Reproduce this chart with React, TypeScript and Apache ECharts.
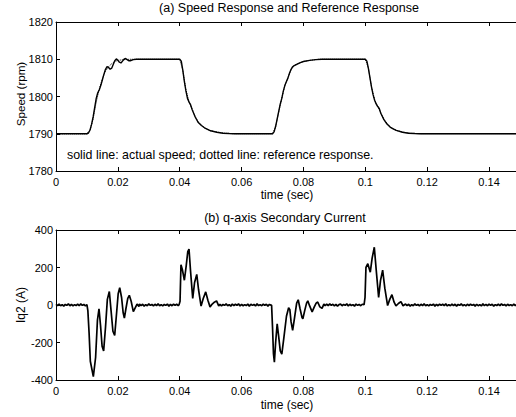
import React, { useEffect, useRef } from "react";
import * as echarts from "echarts";

const FONT = "Liberation Sans, Arial, Helvetica, sans-serif";

// x axis ticks (sec)
const timeMin = 0;
const timeMax = 0.15;
const timeStep = 0.02;

// (a) speed, actual (solid)
const speedT = [
  0, 0.01, 0.0105, 0.011, 0.0115, 0.012, 0.0125, 0.013, 0.0135, 0.014, 0.0145, 0.015, 0.0155, 0.016, 0.0165,
  0.017, 0.0175, 0.018, 0.0185, 0.019, 0.0195, 0.02, 0.0205, 0.021, 0.0215, 0.022, 0.0225, 0.023, 0.0235,
  0.024, 0.025, 0.026, 0.04, 0.0405, 0.041, 0.0415, 0.042, 0.0425, 0.043, 0.0435, 0.044, 0.045, 0.046, 0.047,
  0.048, 0.049, 0.05, 0.052, 0.054, 0.056, 0.058, 0.07, 0.0705, 0.071, 0.0715, 0.072, 0.0725, 0.073, 0.0735,
  0.074, 0.0745, 0.075, 0.0755, 0.076, 0.0765, 0.077, 0.078, 0.079, 0.08, 0.082, 0.084, 0.086, 0.1, 0.1005,
  0.101, 0.1015, 0.102, 0.1025, 0.103, 0.1035, 0.104, 0.1045, 0.105, 0.106, 0.107, 0.108, 0.109, 0.11, 0.112,
  0.114, 0.116, 0.118, 0.15,
];
const speedActual = [
  1790, 1790, 1790.2, 1791, 1792.5, 1794.5, 1797, 1799.5, 1801, 1801.8, 1803, 1804.5, 1806, 1807.3, 1808,
  1807.8, 1807.3, 1807.6, 1808.6, 1809.6, 1810.1, 1809.7, 1809.2, 1809.0, 1809.5, 1810, 1810.2, 1809.9, 1809.6,
  1809.6, 1809.9, 1810, 1810, 1809.5, 1807, 1804, 1801.5, 1799.5, 1798.5, 1797.8, 1796.5, 1794.5, 1793, 1792.2,
  1791.6, 1791.2, 1790.8, 1790.4, 1790.15, 1790.05, 1790, 1790, 1790.5, 1792, 1794, 1796, 1798, 1799.5, 1801.5,
  1803, 1804, 1805, 1806.3, 1807.3, 1808, 1808.3, 1808.7, 1809.1, 1809.4, 1809.7, 1809.9, 1810, 1810, 1809.5,
  1807.5, 1805, 1802.5, 1800.5, 1799, 1798, 1797.3, 1796.8, 1795.5, 1793.8, 1792.6, 1791.8, 1791.3, 1790.9, 1790.4,
  1790.15, 1790.05, 1790, 1790,
];

// (a) speed, reference response (dotted)
const refT = [
  0, 0.01, 0.011, 0.012, 0.013, 0.014, 0.015, 0.016, 0.017, 0.018, 0.019, 0.02, 0.022, 0.024, 0.04, 0.041,
  0.042, 0.043, 0.044, 0.045, 0.046, 0.048, 0.05, 0.053, 0.057, 0.07, 0.071, 0.072, 0.073, 0.074, 0.075, 0.076,
  0.077, 0.078, 0.08, 0.082, 0.085, 0.1, 0.101, 0.102, 0.103, 0.104, 0.105, 0.106, 0.108, 0.11, 0.113, 0.117, 0.15,
];
const speedRef = [
  1790, 1790, 1791, 1794, 1798.5, 1802, 1804.8, 1806.8, 1808, 1808.8, 1809.4, 1809.7, 1809.9, 1810, 1810, 1807,
  1801.8, 1798.6, 1796.6, 1794.6, 1793.1, 1791.6, 1790.8, 1790.3, 1790, 1790, 1791.8, 1795.8, 1799.6, 1803,
  1805.1, 1807.2, 1808.3, 1808.8, 1809.4, 1809.7, 1810, 1810, 1807.6, 1802.6, 1799.1, 1797.3, 1795.6, 1793.9,
  1791.8, 1790.9, 1790.3, 1790, 1790,
];

// (b) q-axis secondary current (A)
const currentT = [
  0, 0.0005, 0.001, 0.0015, 0.002, 0.0025, 0.003, 0.0035, 0.004, 0.0045, 0.005, 0.0055, 0.006, 0.0065, 0.007,
  0.0075, 0.008, 0.0085, 0.009, 0.0095, 0.01,
  0.0103, 0.0107, 0.0111, 0.01207, 0.0128, 0.0134, 0.0139, 0.0144, 0.0149, 0.0154, 0.016, 0.0166, 0.01724, 0.0178,
  0.0184, 0.01897, 0.0195, 0.0201, 0.0206, 0.0212, 0.0217, 0.0221, 0.0226, 0.0232, 0.0237, 0.0243, 0.025, 0.0256,
  0.0262, 0.0268,
  0.027, 0.0275, 0.028, 0.0285, 0.029, 0.0295, 0.03, 0.0305, 0.031, 0.0315, 0.032, 0.0325, 0.033, 0.0335, 0.034,
  0.0345, 0.035, 0.0355, 0.036, 0.0365, 0.037, 0.0375, 0.038, 0.0385, 0.039, 0.0395, 0.0398,
  0.0401, 0.0404, 0.0409, 0.0415, 0.0421, 0.0426, 0.043, 0.0435, 0.0442, 0.0448, 0.0455, 0.0461, 0.0469, 0.0476,
  0.0484, 0.0491, 0.0498, 0.0505, 0.0512, 0.0519, 0.0526,
  0.053, 0.0535, 0.054, 0.0545, 0.055, 0.0555, 0.056, 0.0565, 0.057, 0.0575, 0.058, 0.0585, 0.059, 0.0595, 0.06,
  0.0605, 0.061, 0.0615, 0.062, 0.0625, 0.063, 0.0635, 0.064, 0.0645, 0.065, 0.0655, 0.066, 0.0665, 0.067,
  0.0675, 0.068, 0.0685, 0.069, 0.0697,
  0.07, 0.0703, 0.0706, 0.071, 0.0715, 0.072, 0.0725, 0.073, 0.0737, 0.0745, 0.0752, 0.0756, 0.076, 0.0765, 0.0771,
  0.0778, 0.0783, 0.0789, 0.0795, 0.0798, 0.0804, 0.081, 0.0814, 0.082, 0.0828, 0.0835, 0.0841, 0.0846, 0.0853,
  0.086, 0.0866,
  0.087, 0.0875, 0.088, 0.0885, 0.089, 0.0895, 0.09, 0.0905, 0.091, 0.0915, 0.092, 0.0925, 0.093, 0.0935, 0.094,
  0.0945, 0.095, 0.0955, 0.096, 0.0965, 0.097, 0.0975, 0.098, 0.0985, 0.099, 0.0996,
  0.0999, 0.1002, 0.1008, 0.1016, 0.1022, 0.1029, 0.1035, 0.1043, 0.1049, 0.1056, 0.1063, 0.1072, 0.1079, 0.1086,
  0.1093, 0.1099, 0.1107, 0.1115, 0.1122,
  0.113, 0.1135, 0.114, 0.1145, 0.115, 0.1155, 0.116, 0.1165, 0.117, 0.1175, 0.118, 0.1185, 0.119, 0.1195, 0.12,
  0.1205, 0.121, 0.1215, 0.122, 0.1225, 0.123, 0.1235, 0.124, 0.1245, 0.125, 0.1255, 0.126, 0.1265, 0.127,
  0.1275, 0.128, 0.1285, 0.129, 0.1295, 0.13, 0.1305, 0.131, 0.1315, 0.132, 0.1325, 0.133, 0.1335, 0.134,
  0.1345, 0.135, 0.1355, 0.136, 0.1365, 0.137, 0.1375, 0.138, 0.1385, 0.139, 0.1395, 0.14, 0.1405, 0.141,
  0.1415, 0.142, 0.1425, 0.143, 0.1435, 0.144, 0.1445, 0.145, 0.1455, 0.146, 0.1465, 0.147, 0.1475, 0.148,
  0.1485, 0.149, 0.1495, 0.15,
];
const currentVals = [
  4, -3, 5, -4, 2, -6, 3, -2, 6, -4, 3, -5, 2, -3, 5, -4, 6, -2, 3, -5, 2,
  -30, -150, -300, -382, -280, -80, -20, -110, -220, -245, -120, 30, 72, -30,
  -140, -162, -60, 60, 92, 40, -40, -70, -20, 35, 52, 20, -35, -15,
  5, -8,
  5, -3, 4, -6, 2, -4, 6, -2, 3, -5, 4, -3, 6, -4, 2, -5, 3, -2, 5, -6, 3, -4, 5, -2, 4, -3, 2,
  20, 215, 185, 132, 210, 285, 298, 180, 35, 120, 163, 80, -6, 35,
  70, 25, -10, 5, 15, 22, -5,
  4, -5, 3, -2, 6, -4, 2, -6, 5, -3, 4, -2, 6, -5, 3, -4, 2, -3, 5, -6, 4, -2, 3, -5, 6, -3, 2, -4, 5, -2,
  4, -6, 3, -2,
  -120, -260, -305, -200, -100, -170, -245, -262, -170, -60, -15, -25, -90, -135, -70,
  10, 28, -20, -65, -73, -30, 10, 22, -5, -37, -10, 10, 16, -10,
  -18, 5,
  -4, 5, -3, 6, -2, 4, -5, 3, -6, 2, 5, -4, 3, -2, 6, -5, 4, -3, 2, -6, 5, -2, 3, -4, 4, 2,
  40, 200, 220, 175, 250, 308, 190, 40, 130, 186, 90, -3, 30, 55,
  15, -5, 8, 18, -4,
  5, -3, 4, -6, 2, -4, 6, -2, 3, -5, 4, -3, 6, -4, 2, -5, 3, -2, 5, -6, 3, -4, 5, -2, 4, -3,
  6, -5, 2, -4, 5, -3, 4, -6, 3, -2, 6, -4, 2, -5, 4, -3, 5, -2, 3, -6, 4, -4, 2, -5, 6, -3,
  3, -4, 5, -2, 4, -6, 2, -3, 5, -4, 6, -2, 3, -5, 4, -3, 2, -4, 5, -3, 4, 2,
];

const speedMin = 1780;
const speedMax = 1820;
const speedStep = 10;
const currentMin = -400;
const currentMax = 400;
const currentStep = 200;

const titleA = "(a) Speed Response and Reference Response";
const titleB = "(b) q-axis Secondary Current";
const noteA = "solid line: actual speed; dotted line: reference response.";
const xName = "time (sec)";
const yNameA = "Speed (rpm)";
const yNameB = "Iq2 (A)";

const zip = (t: number[], v: number[]) => t.map((x, i) => [x, v[i]]);

const fmtTime = (v: number) => (Math.abs(v) < 1e-9 ? "0" : String(+v.toFixed(2)));

function xAxes(gridIndex: number) {
  const common = {
    gridIndex,
    type: "value",
    min: timeMin,
    max: timeMax,
    interval: timeStep,
    splitLine: { show: false },
    axisLine: { show: true, onZero: false, lineStyle: { color: "#000", width: 1 } },
    axisTick: { show: true, inside: true, length: 4, lineStyle: { color: "#000" } },
  };
  return [
    {
      ...common,
      position: "bottom",
      axisLabel: {
        show: true,
        margin: 5,
        fontSize: 11,
        color: "#000",
        fontFamily: FONT,
        formatter: fmtTime,
        showMaxLabel: false,
      },
    },
    { ...common, position: "top", axisLabel: { show: false } },
  ];
}

function yAxes(gridIndex: number, min: number, max: number, interval: number) {
  const common = {
    gridIndex,
    type: "value",
    min,
    max,
    interval,
    splitLine: { show: false },
    axisLine: { show: true, onZero: false, lineStyle: { color: "#000", width: 1 } },
    axisTick: { show: true, inside: true, length: 4, lineStyle: { color: "#000" } },
  };
  return [
    {
      ...common,
      position: "left",
      axisLabel: {
        show: true,
        margin: 3,
        fontSize: 11,
        color: "#000",
        fontFamily: FONT,
        formatter: (v: number) => String(v),
      },
    },
    { ...common, position: "right", axisLabel: { show: false } },
  ];
}

export default function App() {
  const ref = useRef<HTMLDivElement>(null);
  useEffect(() => {
    if (!ref.current) return;
    document.body.style.margin = "0";
    document.body.style.overflow = "hidden";
    const chart = echarts.init(ref.current, undefined, { renderer: "svg" });
    const txt = (text: string, x: number, y: number, size: number, extra: any = {}) => ({
      type: "text",
      x,
      y,
      style: {
        text,
        fill: "#000",
        font: `${size}px ${FONT}`,
        textAlign: "center",
        textVerticalAlign: "middle",
        ...extra,
      },
    });
    chart.setOption({
      animation: false,
      backgroundColor: "#fff",
      grid: [
        { left: 56, right: 4, top: 22, height: 149 },
        { left: 56, right: 4, top: 230, height: 150 },
      ],
      xAxis: [...xAxes(0), ...xAxes(1)],
      yAxis: [
        ...yAxes(0, speedMin, speedMax, speedStep),
        ...yAxes(1, currentMin, currentMax, currentStep),
      ],
      series: [
        {
          type: "line",
          xAxisIndex: 0,
          yAxisIndex: 0,
          data: zip(refT, speedRef),
          showSymbol: false,
          lineStyle: { color: "#000", width: 1, type: "dotted" },
        },
        {
          type: "line",
          xAxisIndex: 0,
          yAxisIndex: 0,
          data: zip(speedT, speedActual),
          showSymbol: false,
          lineStyle: { color: "#000", width: 1.4 },
        },
        {
          type: "line",
          xAxisIndex: 2,
          yAxisIndex: 2,
          data: zip(currentT, currentVals),
          showSymbol: false,
          lineStyle: { color: "#000", width: 1.7 },
        },
      ],
      graphic: [
        txt(titleA, 289, 8, 12.5),
        txt(titleB, 285, 218, 12.6),
        txt(xName, 287, 195, 12),
        txt(xName, 287, 405, 12),
        { ...txt(yNameA, 20, 94, 11.6), rotation: Math.PI / 2 },
        { ...txt(yNameB, 21, 305, 12), rotation: Math.PI / 2 },
        txt(noteA, 67, 155, 12.4, { textAlign: "left" }),
      ],
    });
    return () => chart.dispose();
  }, []);
  return <div ref={ref} style={{ position: "fixed", left: 0, top: 0, width: 524, height: 417 }} />;
}
